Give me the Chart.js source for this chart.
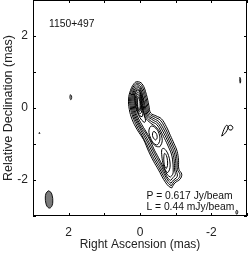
<!DOCTYPE html>
<html><head><meta charset="utf-8">
<script src="https://cdn.jsdelivr.net/npm/chart.js@4/dist/chart.umd.min.js"></script>
<style>html,body{margin:0;padding:0;background:#fff}#wrap{width:249px;height:254px;position:relative}</style>
</head><body><div id="wrap"><canvas id="c"></canvas></div>
<script>
// ---- data (mas) ----
const sourceName = "1150+497";
const peakLabel = "P = 0.617 Jy/beam";
const lowestLabel = "L = 0.44 mJy/beam";
const xTickLabels = [2, 0, -2];
const yTickLabels = [2, 0, -2];

// main-source contours, outermost first (x = RA offset, y = Dec offset)
const contour1 = [[-0.89,-2.22],[-0.80,-2.17],[-0.66,-1.98],[-0.52,-1.72],[-0.38,-1.48],[-0.24,-1.20],[-0.10,-0.88],[0.08,-0.60],[0.22,-0.32],[0.30,-0.04],[0.32,0.25],[0.27,0.48],[0.18,0.66],[0.09,0.73],[-0.06,0.67],[-0.18,0.37],[-0.25,0.06],[-0.30,-0.14],[-0.45,-0.22],[-0.60,-0.30],[-0.74,-0.52],[-0.85,-0.76],[-0.95,-0.98],[-1.04,-1.20],[-1.08,-1.45],[-1.09,-1.70],[-1.17,-1.84],[-1.12,-1.98],[-0.98,-2.08],[-0.89,-2.22]];
const contour2 = [[-0.88,-2.16],[-0.80,-2.10],[-0.68,-1.93],[-0.55,-1.69],[-0.41,-1.45],[-0.30,-1.24],[-0.18,-0.99],[-0.06,-0.77],[0.09,-0.50],[0.20,-0.25],[0.27,0.00],[0.29,0.25],[0.24,0.48],[0.16,0.63],[0.08,0.69],[-0.04,0.63],[-0.15,0.35],[-0.22,0.04],[-0.27,-0.17],[-0.43,-0.26],[-0.57,-0.34],[-0.70,-0.55],[-0.81,-0.78],[-0.91,-1.00],[-1.00,-1.22],[-1.04,-1.46],[-1.05,-1.71],[-1.12,-1.85],[-1.08,-1.96],[-0.96,-2.04],[-0.88,-2.16]];
const contour3 = [[-0.87,-2.09],[-0.80,-2.03],[-0.70,-1.88],[-0.58,-1.66],[-0.45,-1.43],[-0.34,-1.22],[-0.22,-0.97],[-0.10,-0.76],[0.05,-0.49],[0.17,-0.24],[0.24,0.00],[0.26,0.25],[0.21,0.46],[0.14,0.60],[0.07,0.65],[-0.02,0.59],[-0.12,0.33],[-0.19,0.02],[-0.24,-0.20],[-0.40,-0.30],[-0.53,-0.38],[-0.66,-0.58],[-0.77,-0.80],[-0.87,-1.02],[-0.96,-1.24],[-1.00,-1.47],[-1.01,-1.72],[-1.05,-1.86],[-1.02,-1.94],[-0.94,-2.00],[-0.87,-2.09]];
const contour4 = [[-0.86,-2.01],[-0.79,-1.96],[-0.71,-1.83],[-0.61,-1.63],[-0.49,-1.41],[-0.38,-1.20],[-0.26,-0.96],[-0.14,-0.75],[0.02,-0.48],[0.14,-0.23],[0.21,0.00],[0.23,0.25],[0.19,0.44],[0.12,0.56],[0.06,0.61],[-0.01,0.55],[-0.09,0.30],[-0.16,0.00],[-0.21,-0.22],[-0.37,-0.34],[-0.50,-0.42],[-0.62,-0.61],[-0.73,-0.82],[-0.83,-1.04],[-0.92,-1.26],[-0.96,-1.48],[-0.97,-1.72],[-0.99,-1.85],[-0.93,-1.93],[-0.86,-2.01]];
const contour5 = [[-0.85,-1.92],[-0.77,-1.86],[-0.70,-1.74],[-0.62,-1.58],[-0.52,-1.38],[-0.41,-1.18],[-0.30,-0.94],[-0.18,-0.73],[-0.01,-0.47],[0.11,-0.22],[0.18,0.00],[0.20,0.25],[0.17,0.42],[0.10,0.53],[0.05,0.57],[0.00,0.51],[-0.08,0.28],[-0.13,0.00],[-0.18,-0.24],[-0.33,-0.38],[-0.47,-0.46],[-0.58,-0.64],[-0.69,-0.85],[-0.79,-1.06],[-0.88,-1.28],[-0.92,-1.50],[-0.93,-1.72],[-0.92,-1.84],[-0.85,-1.92]];
const contour6a = [[-0.55,-1.08],[-0.44,-1.06],[-0.33,-0.94],[-0.22,-0.74],[-0.05,-0.46],[0.08,-0.21],[0.15,0.00],[0.17,0.25],[0.15,0.40],[0.09,0.50],[0.05,0.53],[0.01,0.47],[-0.065,0.26],[-0.10,0.00],[-0.15,-0.26],[-0.30,-0.42],[-0.44,-0.52],[-0.56,-0.68],[-0.62,-0.84],[-0.61,-0.98],[-0.55,-1.08]];
const contour6b = [[-0.76,-1.80],[-0.70,-1.70],[-0.64,-1.52],[-0.61,-1.30],[-0.61,-1.16],[-0.65,-1.12],[-0.73,-1.18],[-0.80,-1.32],[-0.84,-1.50],[-0.84,-1.66],[-0.80,-1.77],[-0.76,-1.80]];
const contour7a = [[-0.12,-0.40],[-0.05,-0.34],[0.04,-0.20],[0.12,0.00],[0.15,0.22],[0.14,0.38],[0.09,0.46],[0.045,0.49],[-0.01,0.42],[-0.05,0.24],[-0.08,0.00],[-0.12,-0.22],[-0.16,-0.36],[-0.12,-0.40]];
const contour7b = [[-0.47,-1.03],[-0.38,-0.98],[-0.30,-0.84],[-0.25,-0.68],[-0.27,-0.55],[-0.33,-0.50],[-0.44,-0.56],[-0.53,-0.70],[-0.56,-0.86],[-0.52,-0.99],[-0.47,-1.03]];
const contour7c = [[-0.74,-1.68],[-0.70,-1.64],[-0.67,-1.50],[-0.67,-1.34],[-0.69,-1.26],[-0.74,-1.32],[-0.77,-1.46],[-0.77,-1.60],[-0.74,-1.68]];
const contour8a = [[-0.06,-0.24],[0.00,-0.22],[0.06,-0.12],[0.11,0.02],[0.13,0.20],[0.12,0.34],[0.08,0.42],[0.04,0.44],[-0.01,0.37],[-0.04,0.20],[-0.065,0.00],[-0.08,-0.16],[-0.06,-0.24]];
const contour8b = [[-0.43,-0.89],[-0.38,-0.84],[-0.35,-0.76],[-0.36,-0.68],[-0.39,-0.65],[-0.45,-0.70],[-0.48,-0.78],[-0.47,-0.86],[-0.43,-0.89]];
const contour9 = [[0.00,-0.16],[0.05,-0.10],[0.09,0.04],[0.11,0.20],[0.10,0.32],[0.07,0.38],[0.04,0.39],[0.00,0.33],[-0.03,0.18],[-0.045,0.00],[-0.04,-0.12],[0.00,-0.16]];
const contour10 = [[0.00,-0.09],[0.04,-0.08],[0.07,0.04],[0.085,0.18],[0.08,0.29],[0.06,0.33],[0.04,0.34],[0.005,0.28],[-0.015,0.14],[-0.02,0.00],[0.00,-0.09]];
const contour11 = [[0.02,-0.05],[0.05,-0.02],[0.065,0.10],[0.065,0.22],[0.055,0.28],[0.04,0.29],[0.015,0.24],[0.00,0.12],[0.00,0.00],[0.02,-0.05]];

// isolated weak features
const blobEast = [[1.95,0.37],[1.92,0.33],[1.92,0.26],[1.94,0.23],[1.96,0.27],[1.96,0.34],[1.95,0.37]];
const blobWest = [[-2.80,0.85],[-2.82,0.80],[-2.82,0.72],[-2.81,0.69],[-2.80,0.74],[-2.80,0.82],[-2.80,0.85]];
const blobDot = [[2.82,-0.68],[2.81,-0.70],[2.82,-0.72],[2.83,-0.70],[2.82,-0.68]];
const blobLoopA = [[-2.29,-0.78],[-2.33,-0.66],[-2.38,-0.54],[-2.43,-0.48],[-2.47,-0.52],[-2.44,-0.62],[-2.37,-0.72],[-2.29,-0.78]];
const blobLoopB = [[-2.48,-0.50],[-2.54,-0.48],[-2.60,-0.53],[-2.58,-0.60],[-2.52,-0.61],[-2.47,-0.56],[-2.48,-0.50]];
const blobCorner = [[-2.71,-2.84],[-2.69,-2.88],[-2.70,-2.94],[-2.72,-2.95],[-2.74,-2.90],[-2.73,-2.85],[-2.71,-2.84]];

// restoring beam
const beam = [[2.57,-2.30],[2.635,-2.37],[2.655,-2.50],[2.64,-2.64],[2.60,-2.74],[2.53,-2.78],[2.465,-2.71],[2.445,-2.58],[2.46,-2.44],[2.50,-2.34],[2.57,-2.30]];

// ---- chart ----
const contours = [contour1,contour2,contour3,contour4,contour5,contour6a,contour6b,contour7a,contour7b,contour7c,contour8a,contour8b,contour9,contour10,contour11,blobEast,blobWest,blobDot,blobLoopA,blobLoopB,blobCorner];
const toPts = a => a.map(p => ({x:p[0], y:p[1]}));
const datasets = contours.map(c => ({
  data: toPts(c), showLine:true, borderColor:'#000', borderWidth:1,
  pointRadius:0, tension:0.4, fill:false
}));
datasets.push({data: toPts(beam), showLine:true, borderColor:'#000', borderWidth:0.9,
  backgroundColor:'#7a7a7a', pointRadius:0, tension:0.4, fill:'shape'});

const TEXT = '#222';
const frame = {
  id:'frame',
  afterDatasetsDraw(chart){
    const {ctx, chartArea:a, scales:{x,y}} = chart;
    ctx.save();
    ctx.strokeStyle = '#000'; ctx.lineWidth = 1;
    ctx.strokeRect(a.left+0.5, a.top+0.5, a.right-a.left-1, a.bottom-a.top-1);
    const L = 3;
    ctx.beginPath();
    for (let v=-3; v<=3; v++){
      const px = Math.round(x.getPixelForValue(v))+0.5;
      ctx.moveTo(px, a.bottom); ctx.lineTo(px, a.bottom-L);
      ctx.moveTo(px, a.top); ctx.lineTo(px, a.top+L);
      const py = Math.round(y.getPixelForValue(v))+0.5;
      ctx.moveTo(a.left, py); ctx.lineTo(a.left+L, py);
      ctx.moveTo(a.right, py); ctx.lineTo(a.right-L, py);
    }
    ctx.stroke();
    ctx.fillStyle = '#111';
    ctx.font = '10.3px "Liberation Sans", Arial, sans-serif';
    ctx.textBaseline = 'middle'; ctx.textAlign = 'left';
    ctx.fillText(sourceName, x.getPixelForValue(2.55), y.getPixelForValue(2.33));
    ctx.fillText(peakLabel, x.getPixelForValue(-0.18), y.getPixelForValue(-2.44));
    ctx.fillText(lowestLabel, x.getPixelForValue(-0.18), y.getPixelForValue(-2.75));
    ctx.restore();
  }
};

new Chart(document.getElementById('c'), {
  type:'scatter',
  data:{datasets},
  plugins:[frame],
  options:{
    responsive:true, maintainAspectRatio:false, animation:false,
    layout:{padding:{left:0,right:2,top:0,bottom:0}},
    plugins:{legend:{display:false}, tooltip:{enabled:false}},
    scales:{
      x:{type:'linear', min:-3, max:3, reverse:true,
        afterFit(s){ s.height = 38; s.paddingLeft = 0; s.paddingRight = 0; },
        grid:{display:false, drawTicks:false}, border:{display:false},
        ticks:{stepSize:1, padding:9, color:TEXT, font:{family:'"Liberation Sans", Arial, sans-serif', size:12},
          callback:v => xTickLabels.includes(v) ? String(v) : ''},
        title:{display:true, text:'Right Ascension (mas)', color:TEXT, padding:{top:0,bottom:2},
          font:{family:'"Liberation Sans", Arial, sans-serif', size:12}}},
      y:{type:'linear', min:-3, max:3,
        afterFit(s){ s.width = 33; s.paddingTop = 0; s.paddingBottom = 0; },
        grid:{display:false, drawTicks:false}, border:{display:false},
        ticks:{stepSize:1, padding:5, color:TEXT, font:{family:'"Liberation Sans", Arial, sans-serif', size:12},
          callback:v => yTickLabels.includes(v) ? String(v) : ''},
        title:{display:true, text:'Relative Declination (mas)', color:TEXT, padding:{top:1,bottom:0},
          font:{family:'"Liberation Sans", Arial, sans-serif', size:12.5}}}
    }
  }
});
</script></body></html>
